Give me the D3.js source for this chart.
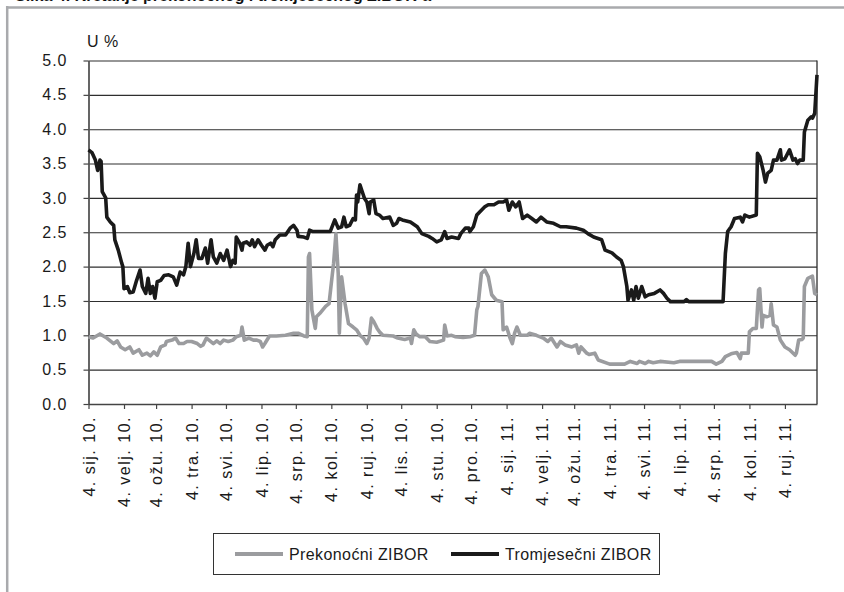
<!DOCTYPE html>
<html>
<head>
<meta charset="utf-8">
<script src="https://cdn.jsdelivr.net/npm/d3@7"></script>
<style>
  body { margin: 0; background: #fff; }
  svg { display: block; font-family: "Liberation Sans", Arial, sans-serif; }
</style>
</head>
<body>
<script>
//Width and height
var w = 844;
var h = 592;

//Tick dates and labels (4th of each month)
var tickDates = ["2010-01-04","2010-02-04","2010-03-04","2010-04-04","2010-05-04","2010-06-04","2010-07-04",
                 "2010-08-04","2010-09-04","2010-10-04","2010-11-04","2010-12-04","2011-01-04","2011-02-04",
                 "2011-03-04","2011-04-04","2011-05-04","2011-06-04","2011-07-04","2011-08-04","2011-09-04"];
var tickLabels = ["4. sij. 10.","4. velj. 10.","4. ožu. 10.","4. tra. 10.","4. svi. 10.","4. lip. 10.","4. srp. 10.",
                  "4. kol. 10.","4. ruj. 10.","4. lis. 10.","4. stu. 10.","4. pro. 10.","4. sij. 11.","4. velj. 11.",
                  "4. ožu. 11.","4. tra. 11.","4. svi. 11.","4. lip. 11.","4. srp. 11.","4. kol. 11.","4. ruj. 11."];
var yTicks = [0, 0.5, 1, 1.5, 2, 2.5, 3, 3.5, 4, 4.5, 5];
var seriesNames = ["Prekonoćni ZIBOR", "Tromjesečni ZIBOR"];

//Prekonoćni ZIBOR (overnight)
var overnightDates = [
  "2010-01-04","2010-01-08","2010-01-14","2010-01-20","2010-01-26","2010-01-29","2010-02-01","2010-02-05","2010-02-09","2010-02-12",
  "2010-02-17","2010-02-20","2010-02-24","2010-02-27","2010-03-02","2010-03-05","2010-03-08","2010-03-12","2010-03-13","2010-03-18",
  "2010-03-21","2010-03-24","2010-03-28","2010-03-31","2010-04-04","2010-04-09","2010-04-12","2010-04-14","2010-04-17","2010-04-20",
  "2010-04-23","2010-04-26","2010-04-29","2010-05-02","2010-05-06","2010-05-10","2010-05-13","2010-05-17","2010-05-18","2010-05-20",
  "2010-05-24","2010-05-28","2010-05-31","2010-06-03","2010-06-05","2010-06-07","2010-06-11","2010-06-17","2010-06-25","2010-07-02",
  "2010-07-06","2010-07-11","2010-07-14","2010-07-15","2010-07-16","2010-07-18","2010-07-21","2010-07-22","2010-07-25","2010-07-30",
  "2010-08-02","2010-08-04","2010-08-06","2010-08-08","2010-08-10","2010-08-11","2010-08-13","2010-08-16","2010-08-19","2010-08-23",
  "2010-08-26","2010-08-29","2010-09-01","2010-09-04","2010-09-06","2010-09-08","2010-09-10","2010-09-13","2010-09-15","2010-09-18",
  "2010-09-27","2010-10-01","2010-10-07","2010-10-12","2010-10-13","2010-10-15","2010-10-17","2010-10-20","2010-10-25","2010-10-29",
  "2010-11-04","2010-11-10","2010-11-11","2010-11-13","2010-11-17","2010-11-20","2010-11-27","2010-12-03","2010-12-07","2010-12-09",
  "2010-12-10","2010-12-13","2010-12-16","2010-12-19","2010-12-22","2010-12-26","2010-12-31","2011-01-01","2011-01-04","2011-01-07",
  "2011-01-09","2011-01-11","2011-01-13","2011-01-16","2011-01-22","2011-01-24","2011-01-30","2011-02-05","2011-02-09","2011-02-12",
  "2011-02-17","2011-02-20","2011-02-24","2011-03-02","2011-03-06","2011-03-08","2011-03-10","2011-03-15","2011-03-17","2011-03-22",
  "2011-03-25","2011-04-04","2011-04-17","2011-04-22","2011-04-28","2011-04-30","2011-05-05","2011-05-08","2011-05-12","2011-05-18",
  "2011-05-30","2011-06-04","2011-07-02","2011-07-06","2011-07-11","2011-07-14","2011-07-19","2011-07-24","2011-07-27","2011-07-28",
  "2011-08-03","2011-08-04","2011-08-07","2011-08-10","2011-08-12","2011-08-13","2011-08-15","2011-08-16","2011-08-19","2011-08-22",
  "2011-08-23","2011-08-25","2011-08-28","2011-08-31","2011-09-04","2011-09-08","2011-09-13","2011-09-14","2011-09-16","2011-09-19",
  "2011-09-20","2011-09-21","2011-09-24","2011-09-28","2011-09-30","2011-10-02"];
var overnightValues = [
  0.98,0.96,1.02,0.96,0.88,0.92,0.83,0.79,0.83,0.74,
  0.79,0.71,0.74,0.70,0.76,0.71,0.83,0.86,0.91,0.93,
  0.96,0.88,0.88,0.91,0.91,0.88,0.84,0.86,0.96,0.92,
  0.88,0.92,0.88,0.93,0.91,0.93,0.98,1.00,1.12,0.93,
  0.96,0.93,0.93,0.91,0.83,0.88,0.99,0.99,1.00,1.03,
  1.03,0.99,0.98,2.14,2.19,1.37,1.10,1.27,1.32,1.42,
  1.46,1.76,2.05,2.48,1.90,1.03,1.85,1.46,1.17,1.12,
  1.08,1.00,0.96,0.88,0.96,1.25,1.20,1.10,1.05,1.00,
  0.99,0.96,0.94,0.96,0.88,1.08,1.02,0.98,0.98,0.91,
  0.90,0.93,1.15,0.99,1.00,0.98,0.97,0.98,1.00,1.37,
  1.42,1.90,1.95,1.85,1.59,1.51,1.49,1.08,1.12,0.96,
  0.88,1.03,1.12,1.00,1.00,1.03,1.00,0.96,0.91,0.96,
  0.83,0.91,0.86,0.83,0.86,0.74,0.83,0.74,0.72,0.74,
  0.64,0.58,0.58,0.62,0.59,0.62,0.59,0.62,0.60,0.62,
  0.60,0.62,0.62,0.58,0.62,0.69,0.73,0.75,0.66,0.74,
  0.74,1.05,1.10,1.10,1.66,1.68,1.12,1.29,1.27,1.29,
  1.46,1.15,1.12,0.93,0.83,0.79,0.71,0.74,0.93,0.94,
  0.96,1.71,1.83,1.86,1.61,1.59];

//Tromjesečni ZIBOR (three month)
var threeMonthDates = [
  "2010-01-04","2010-01-07","2010-01-10","2010-01-12","2010-01-14","2010-01-15","2010-01-16","2010-01-19","2010-01-20","2010-01-23",
  "2010-01-26","2010-01-27","2010-01-30","2010-02-02","2010-02-03","2010-02-04","2010-02-07","2010-02-09","2010-02-12","2010-02-15",
  "2010-02-18","2010-02-20","2010-02-23","2010-02-25","2010-02-27","2010-03-01","2010-03-03","2010-03-05","2010-03-08","2010-03-11",
  "2010-03-15","2010-03-19","2010-03-22","2010-03-25","2010-03-28","2010-03-30","2010-04-01","2010-04-03","2010-04-06","2010-04-08",
  "2010-04-10","2010-04-13","2010-04-16","2010-04-18","2010-04-21","2010-04-23","2010-04-26","2010-04-29","2010-05-02","2010-05-05",
  "2010-05-08","2010-05-10","2010-05-12","2010-05-13","2010-05-16","2010-05-18","2010-05-19","2010-05-22","2010-05-25","2010-05-27",
  "2010-05-29","2010-06-01","2010-06-04","2010-06-07","2010-06-09","2010-06-12","2010-06-14","2010-06-16","2010-06-20","2010-06-25",
  "2010-06-29","2010-07-02","2010-07-05","2010-07-06","2010-07-11","2010-07-14","2010-07-16","2010-07-19","2010-08-03","2010-08-07",
  "2010-08-10","2010-08-13","2010-08-15","2010-08-17","2010-08-20","2010-08-23","2010-08-25","2010-08-26","2010-08-27","2010-08-29",
  "2010-08-31","2010-09-02","2010-09-04","2010-09-06","2010-09-07","2010-09-10","2010-09-12","2010-09-15","2010-09-18","2010-09-24",
  "2010-09-27","2010-09-30","2010-10-02","2010-10-05","2010-10-12","2010-10-18","2010-10-22","2010-10-28","2010-10-31","2010-11-04",
  "2010-11-08","2010-11-11","2010-11-13","2010-11-17","2010-11-23","2010-11-25","2010-11-29","2010-12-02","2010-12-03","2010-12-06",
  "2010-12-09","2010-12-13","2010-12-16","2010-12-19","2010-12-24","2010-12-28","2011-01-01","2011-01-04","2011-01-06","2011-01-09",
  "2011-01-12","2011-01-15","2011-01-18","2011-01-22","2011-01-26","2011-01-30","2011-02-03","2011-02-08","2011-02-14","2011-02-20",
  "2011-02-25","2011-03-06","2011-03-12","2011-03-16","2011-03-21","2011-03-28","2011-03-31","2011-04-06","2011-04-10","2011-04-14",
  "2011-04-16","2011-04-19","2011-04-20","2011-04-23","2011-04-25","2011-04-27","2011-04-29","2011-05-02","2011-05-05","2011-05-08",
  "2011-05-13","2011-05-18","2011-05-21","2011-05-24","2011-05-27","2011-06-08","2011-06-10","2011-06-12","2011-07-12","2011-07-14",
  "2011-07-16","2011-07-19","2011-07-22","2011-07-27","2011-07-29","2011-07-31","2011-08-04","2011-08-10","2011-08-11","2011-08-13",
  "2011-08-16","2011-08-18","2011-08-20","2011-08-23","2011-08-25","2011-08-28","2011-08-31","2011-09-01","2011-09-04","2011-09-08",
  "2011-09-11","2011-09-13","2011-09-15","2011-09-17","2011-09-20","2011-09-21","2011-09-24","2011-09-27","2011-09-28","2011-09-30",
  "2011-10-02"];
var threeMonthValues = [
  3.70,3.66,3.55,3.40,3.55,3.53,3.09,3.00,2.72,2.65,
  2.60,2.39,2.24,2.05,2.00,1.68,1.71,1.62,1.63,1.80,
  1.95,1.71,1.61,1.83,1.61,1.71,1.54,1.78,1.80,1.87,
  1.88,1.85,1.73,1.92,1.88,2.00,2.34,2.00,2.19,2.39,
  2.12,2.12,2.27,2.05,2.39,2.14,2.05,2.19,2.09,2.24,
  2.00,2.09,2.05,2.43,2.34,2.24,2.34,2.36,2.31,2.39,
  2.29,2.39,2.31,2.24,2.31,2.34,2.29,2.39,2.46,2.46,
  2.56,2.60,2.53,2.44,2.43,2.41,2.53,2.51,2.51,2.68,
  2.56,2.58,2.72,2.58,2.60,2.70,2.68,3.04,2.94,3.19,
  3.09,2.99,2.94,2.77,2.94,2.97,2.77,2.75,2.70,2.72,
  2.60,2.63,2.70,2.68,2.65,2.58,2.48,2.44,2.41,2.36,
  2.39,2.51,2.41,2.43,2.41,2.48,2.56,2.56,2.51,2.58,
  2.75,2.82,2.87,2.90,2.90,2.94,2.94,2.97,2.82,2.94,
  2.87,2.94,2.70,2.75,2.70,2.65,2.72,2.65,2.63,2.58,
  2.58,2.56,2.53,2.48,2.43,2.39,2.24,2.20,2.14,2.09,
  2.00,1.71,1.51,1.66,1.51,1.71,1.54,1.71,1.56,1.59,
  1.61,1.66,1.61,1.54,1.49,1.49,1.52,1.49,1.49,2.19,
  2.51,2.58,2.70,2.72,2.65,2.75,2.72,2.75,3.65,3.60,
  3.40,3.23,3.36,3.40,3.55,3.55,3.70,3.55,3.57,3.70,
  3.55,3.57,3.50,3.55,3.55,3.96,4.13,4.18,4.16,4.23,
  4.79];

var parseDate = d3.timeParse("%Y-%m-%d");

//Plot area
var plotLeft = 88.5, plotRight = 817, plotTop = 60.5, plotBottom = 404;

var xScale = d3.scaleTime()
                .domain([parseDate("2010-01-04"), parseDate("2011-10-02")])
                .range([plotLeft, plotRight]);

var yScale = d3.scaleLinear()
                .domain([0, 5])
                .range([plotBottom, plotTop]);

//Create SVG element
var svg = d3.select("body")
            .append("svg")
            .attr("width", w)
            .attr("height", h);

//Frame and (cut off) title
svg.append("text")
   .attr("x", 15)
   .attr("y", 1)
   .attr("font-size", "16px")
   .attr("font-weight", "bold")
   .attr("fill", "#111")
   .text("Slika 4. Kretanje prekonoćnog i tromjesečnog ZIBOR-a");

svg.append("line")
   .attr("x1", 6).attr("x2", w)
   .attr("y1", 7.5).attr("y2", 7.5)
   .attr("stroke", "#a9aaad")
   .attr("stroke-width", 2.5);

svg.append("line")
   .attr("x1", 7.2).attr("x2", 7.2)
   .attr("y1", 6).attr("y2", h)
   .attr("stroke", "#a9aaad")
   .attr("stroke-width", 2.5);

//Gridlines
svg.append("g")
   .attr("class", "grid")
   .attr("transform", "translate(" + plotLeft + ",0)")
   .call(d3.axisLeft(yScale).tickValues(yTicks).tickSize(-(plotRight - plotLeft)).tickFormat(""))
   .call(function(g) { g.select(".domain").remove(); })
   .selectAll("line")
   .attr("stroke", "#2e2e2e")
   .attr("stroke-width", 1.1);

//Right border
svg.append("line")
   .attr("x1", plotRight).attr("x2", plotRight)
   .attr("y1", plotTop).attr("y2", plotBottom)
   .attr("stroke", "#2e2e2e")
   .attr("stroke-width", 1.3);

//Y axis
var yAxis = svg.append("g")
   .attr("transform", "translate(" + plotLeft + ",0)")
   .call(d3.axisLeft(yScale).tickValues(yTicks).tickSize(5).tickSizeOuter(0).tickPadding(16).tickFormat(d3.format(".1f")));
yAxis.select(".domain").attr("stroke", "#555").attr("stroke-width", 1.8);
yAxis.selectAll(".tick line").attr("stroke", "#444").attr("stroke-width", 1.2);
yAxis.selectAll("text")
     .attr("font-family", "Liberation Sans, Arial, sans-serif")
     .attr("font-size", "16px")
     .attr("letter-spacing", "1px")
     .attr("fill", "#1a1a1a");

//X axis
var xAxis = svg.append("g")
   .attr("transform", "translate(0," + plotBottom + ")")
   .call(d3.axisBottom(xScale)
           .tickValues(tickDates.map(parseDate))
           .tickSize(5)
           .tickSizeOuter(0)
           .tickFormat(function(d, i) { return tickLabels[i]; }));
xAxis.select(".domain").attr("stroke", "#444").attr("stroke-width", 1.3);
xAxis.selectAll(".tick line").attr("stroke", "#444").attr("stroke-width", 1.2);
xAxis.selectAll("text")
     .attr("font-family", "Liberation Sans, Arial, sans-serif")
     .attr("font-size", "16px")
     .attr("letter-spacing", "1.5px")
     .attr("fill", "#1a1a1a")
     .attr("text-anchor", "end")
     .attr("transform", "translate(0,12) rotate(-90)")
     .attr("x", 0)
     .attr("y", 0)
     .attr("dy", "0.35em");

//Unit label
svg.append("text")
   .attr("x", 87)
   .attr("y", 47)
   .attr("font-size", "16px")
   .attr("letter-spacing", "0.5px")
   .attr("fill", "#1a1a1a")
   .text("U %");

//Lines
var line = d3.line()
             .x(function(d) { return xScale(parseDate(d[0])); })
             .y(function(d) { return yScale(d[1]); });

svg.append("path")
   .datum(d3.zip(overnightDates, overnightValues))
   .attr("d", line)
   .attr("fill", "none")
   .attr("stroke", "#9b9c9f")
   .attr("stroke-width", 3.6)
   .attr("stroke-linejoin", "round");

svg.append("path")
   .datum(d3.zip(threeMonthDates, threeMonthValues))
   .attr("d", line)
   .attr("fill", "none")
   .attr("stroke", "#1a1a1a")
   .attr("stroke-width", 3.6)
   .attr("stroke-linejoin", "round");

//Legend
var legend = svg.append("g");
legend.append("rect")
      .attr("x", 213.5).attr("y", 533.5)
      .attr("width", 446).attr("height", 41)
      .attr("fill", "none")
      .attr("stroke", "#333")
      .attr("stroke-width", 1);

var legendItems = legend.selectAll("g.item")
      .data(seriesNames)
      .enter()
      .append("g")
      .attr("class", "item")
      .attr("transform", function(d, i) { return "translate(" + (i == 0 ? 235 : 451) + ",554)"; });

legendItems.append("line")
      .attr("x1", 0).attr("x2", 48)
      .attr("stroke", function(d, i) { return i == 0 ? "#9b9c9f" : "#1a1a1a"; })
      .attr("stroke-width", 4);

legendItems.append("text")
      .attr("x", 54)
      .attr("dy", "0.35em")
      .attr("font-size", "16px")
      .attr("letter-spacing", "0.4px")
      .attr("fill", "#1a1a1a")
      .text(function(d) { return d; });
</script>
</body>
</html>
